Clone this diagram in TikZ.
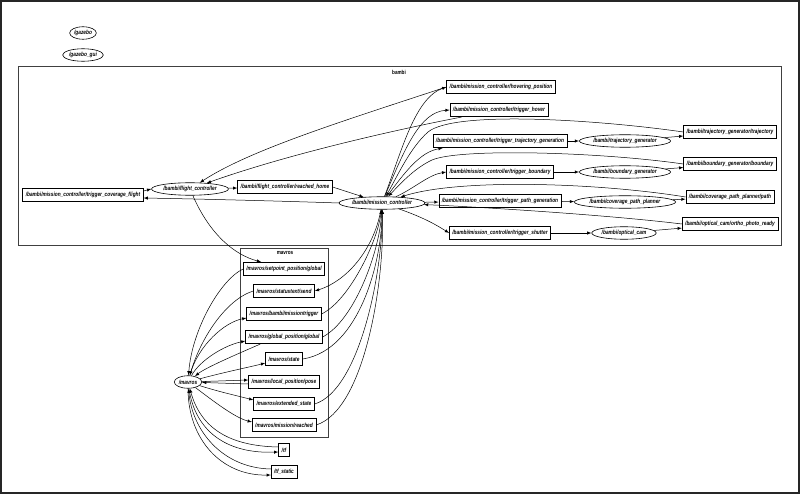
\documentclass[tikz,border=0pt]{standalone}
\usepackage{fontspec}
\newfontfamily\gvfont[FakeStretch=0.8]{Liberation Sans}
\usepackage{tikz}
\usetikzlibrary{arrows}
\usetikzlibrary{shapes.geometric}
\tikzset{
  gvtext/.style={font=\gvfont\bfseries\itshape\fontsize{6}{6.5}\selectfont},
  topic/.style={gvtext, draw, rectangle, line width=0.6pt, minimum height=13.5pt, inner xsep=3pt, inner ysep=0pt},
  rosnode/.style={gvtext, draw, ellipse, line width=0.6pt, minimum height=12.5pt, inner xsep=0.5pt, inner ysep=0pt},
  cluster/.style={draw=black!75, line width=0.6pt},
  clusterlabel/.style={font=\gvfont\bfseries\fontsize{5.8}{6}\selectfont},
  link/.style={-latex, line width=0.5pt},
}
\begin{document}
\begin{tikzpicture}[x=1pt,y=-1pt]
  \useasboundingbox (0,0) rectangle (800,494);
  \draw[black!85, line width=2pt] (1,1) rectangle (799,493);
  \draw[cluster] (18,66) rectangle (781,245);
  \node[clusterlabel] (bambilabel) at (399,72) {bambi};
  \draw[cluster] (240,248) rectangle (328,437);
  \node[clusterlabel] (mavroslabel) at (285,253) {mavros};

  \node[rosnode] (gazebo) at (83,33) {/gazebo};
  \node[rosnode] (gazebogui) at (83,55) {/gazebo\_gui};

  \node[topic] (covflight) at (83,195) {/bambi/mission\_controller/trigger\_coverage\_flight};
  \node[rosnode] (flightctl) at (190,189) {/bambi/flight\_controller};
  \node[topic] (reachedhome) at (285,187) {/bambi/flight\_controller/reached\_home};
  \node[rosnode] (missionctl) at (382,203) {/bambi/mission\_controller};

  \node[topic] (hovpos) at (501,87) {/bambi/mission\_controller/hovering\_position};
  \node[topic] (trighover) at (499,110) {/bambi/mission\_controller/trigger\_hover};
  \node[topic] (trigtraj) at (500,141) {/bambi/mission\_controller/trigger\_trajectory\_generation};
  \node[topic] (trigbound) at (500,172) {/bambi/mission\_controller/trigger\_boundary};
  \node[topic] (trigpath) at (500,201) {/bambi/mission\_controller/trigger\_path\_generation};
  \node[topic] (trigshut) at (500,233) {/bambi/mission\_controller/trigger\_shutter};

  \node[rosnode] (trajgen) at (625,141) {/bambi/trajectory\_generator};
  \node[rosnode] (boundgen) at (625,172) {/bambi/boundary\_generator};
  \node[rosnode] (pathplan) at (625,202) {/bambi/coverage\_path\_planner};
  \node[rosnode] (opticalcam) at (624,233) {/bambi/optical\_cam};

  \node[topic] (trajout) at (730,132) {/bambi/trajectory\_generator/trajectory};
  \node[topic] (boundout) at (730,164) {/bambi/boundary\_generator/boundary};
  \node[topic] (pathout) at (730,197) {/bambi/coverage\_path\_planner/path};
  \node[topic] (orthoout) at (730,224) {/bambi/optical\_cam/ortho\_photo\_ready};

  \node[topic] (setpoint) at (284,269) {/mavros/setpoint\_position/global};
  \node[topic] (statustext) at (284,291) {/mavros/statustext/send};
  \node[topic] (missiontrig) at (284,314) {/mavros/bambi/missiontrigger};
  \node[topic] (globalpos) at (284,337) {/mavros/global\_position/global};
  \node[topic] (mavstate) at (284,359) {/mavros/state};
  \node[topic] (localpose) at (284,382) {/mavros/local\_position/pose};
  \node[topic] (extstate) at (284,404) {/mavros/extended\_state};
  \node[topic] (missionreached) at (284,425) {/mavros/mission/reached};
  \node[rosnode] (mavros) at (188,382) {/mavros};
  \node[topic] (tf) at (284,450) {/tf};
  \node[topic] (tfstatic) at (284,472) {/tf\_static};

  \draw[link] (missionctl.west) .. controls (280,201) and (200,199) .. ([yshift=-3pt]covflight.east);
  \draw[link] ([yshift=4pt]covflight.east) -- (flightctl.west);
  \draw[link] (flightctl) -- (reachedhome);
  \draw[link] (reachedhome.east) -- (missionctl);

  \draw[link] (missionctl) .. controls (402,150) and (415,98) .. (hovpos.west);
  \draw[link] (hovpos.west) .. controls (340,122) and (250,150) .. (flightctl);
  \draw[link] (missionctl) .. controls (405,148) and (420,112) .. (trighover.west);
  \draw[link] ([xshift=12pt]trighover.south west) .. controls (420,125) and (300,150) .. (flightctl);
  \draw[link] (missionctl) .. controls (405,172) and (420,152) .. ([xshift=10pt]trigtraj.south west);
  \draw[link] (trajout.west) .. controls (600,120) and (455,110) .. (428,132) .. controls (410,148) and (398,175) .. (missionctl);
  \draw[link] (missionctl) .. controls (415,188) and (428,175) .. (trigbound.west);
  \draw[link] (boundout.west) .. controls (600,152) and (460,148) .. (432,160) .. controls (415,168) and (402,182) .. (missionctl);
  \draw[link] (missionctl) -- (trigpath);
  \draw[link] (pathout.west) .. controls (600,183) and (460,178) .. (missionctl);
  \draw[link] (missionctl) .. controls (425,218) and (438,226) .. (trigshut.west);
  \draw[link] (orthoout.west) .. controls (600,214) and (460,206) .. (missionctl);

  \draw[link] (trigtraj) -- (trajgen);
  \draw[link] (trajgen) -- (trajout);
  \draw[link] (trigbound) -- (boundgen);
  \draw[link] (boundgen) -- (boundout);
  \draw[link] (trigpath) -- (pathplan);
  \draw[link] (pathplan) -- (pathout);
  \draw[link] (trigshut) -- (opticalcam);
  \draw[link] (opticalcam) -- (orthoout);

  \draw[link] (flightctl) .. controls (210,235) and (235,255) .. ([xshift=18pt]setpoint.north west);
  \draw[link] (missionctl) .. controls (375,245) and (350,280) .. (statustext.east);
  \draw[link] (missiontrig.east) .. controls (350,300) and (378,240) .. (missionctl);
  \draw[link] (globalpos.east) .. controls (355,320) and (380,250) .. (missionctl);
  \draw[link] (mavstate.east) .. controls (360,350) and (382,260) .. (missionctl);
  \draw[link] (extstate.east) .. controls (360,390) and (383,270) .. (missionctl);
  \draw[link] (missionreached.east) .. controls (365,410) and (385,280) .. (missionctl);

  \draw[link] (setpoint.west) .. controls (220,280) and (192,330) .. (mavros);
  \draw[link] (statustext.west) .. controls (225,300) and (200,340) .. (mavros);
  \draw[link] (mavros) .. controls (198,345) and (225,322) .. ([yshift=3pt]missiontrig.south west);
  \draw[link] (mavros) .. controls (200,360) and (225,345) .. ([yshift=3pt]globalpos.south west);
  \draw[link] ([xshift=15pt]globalpos.south west) .. controls (235,355) and (205,368) .. (mavros);
  \draw[link] (mavros) .. controls (225,372) and (250,367) .. ([yshift=3pt]mavstate.south west);
  \draw[link] (mavros) -- ([yshift=2pt]localpose.west);
  \draw[link] ([yshift=-2pt]localpose.west) -- (mavros);
  \draw[link] (mavros) .. controls (220,392) and (238,396) .. ([yshift=-3pt]extstate.north west);
  \draw[link] (mavros) .. controls (212,400) and (235,418) .. ([yshift=-4pt]missionreached.north west);
  \draw[link] (mavros) .. controls (195,430) and (225,454) .. ([yshift=-2pt]tf.west);
  \draw[link] ([yshift=3pt]tf.west) .. controls (225,446) and (200,425) .. (mavros);
  \draw[link] (mavros) .. controls (188,440) and (222,476) .. ([yshift=-3pt]tfstatic.west);
  \draw[link] ([yshift=3pt]tfstatic.west) .. controls (222,468) and (192,430) .. (mavros);
\end{tikzpicture}
\end{document}
